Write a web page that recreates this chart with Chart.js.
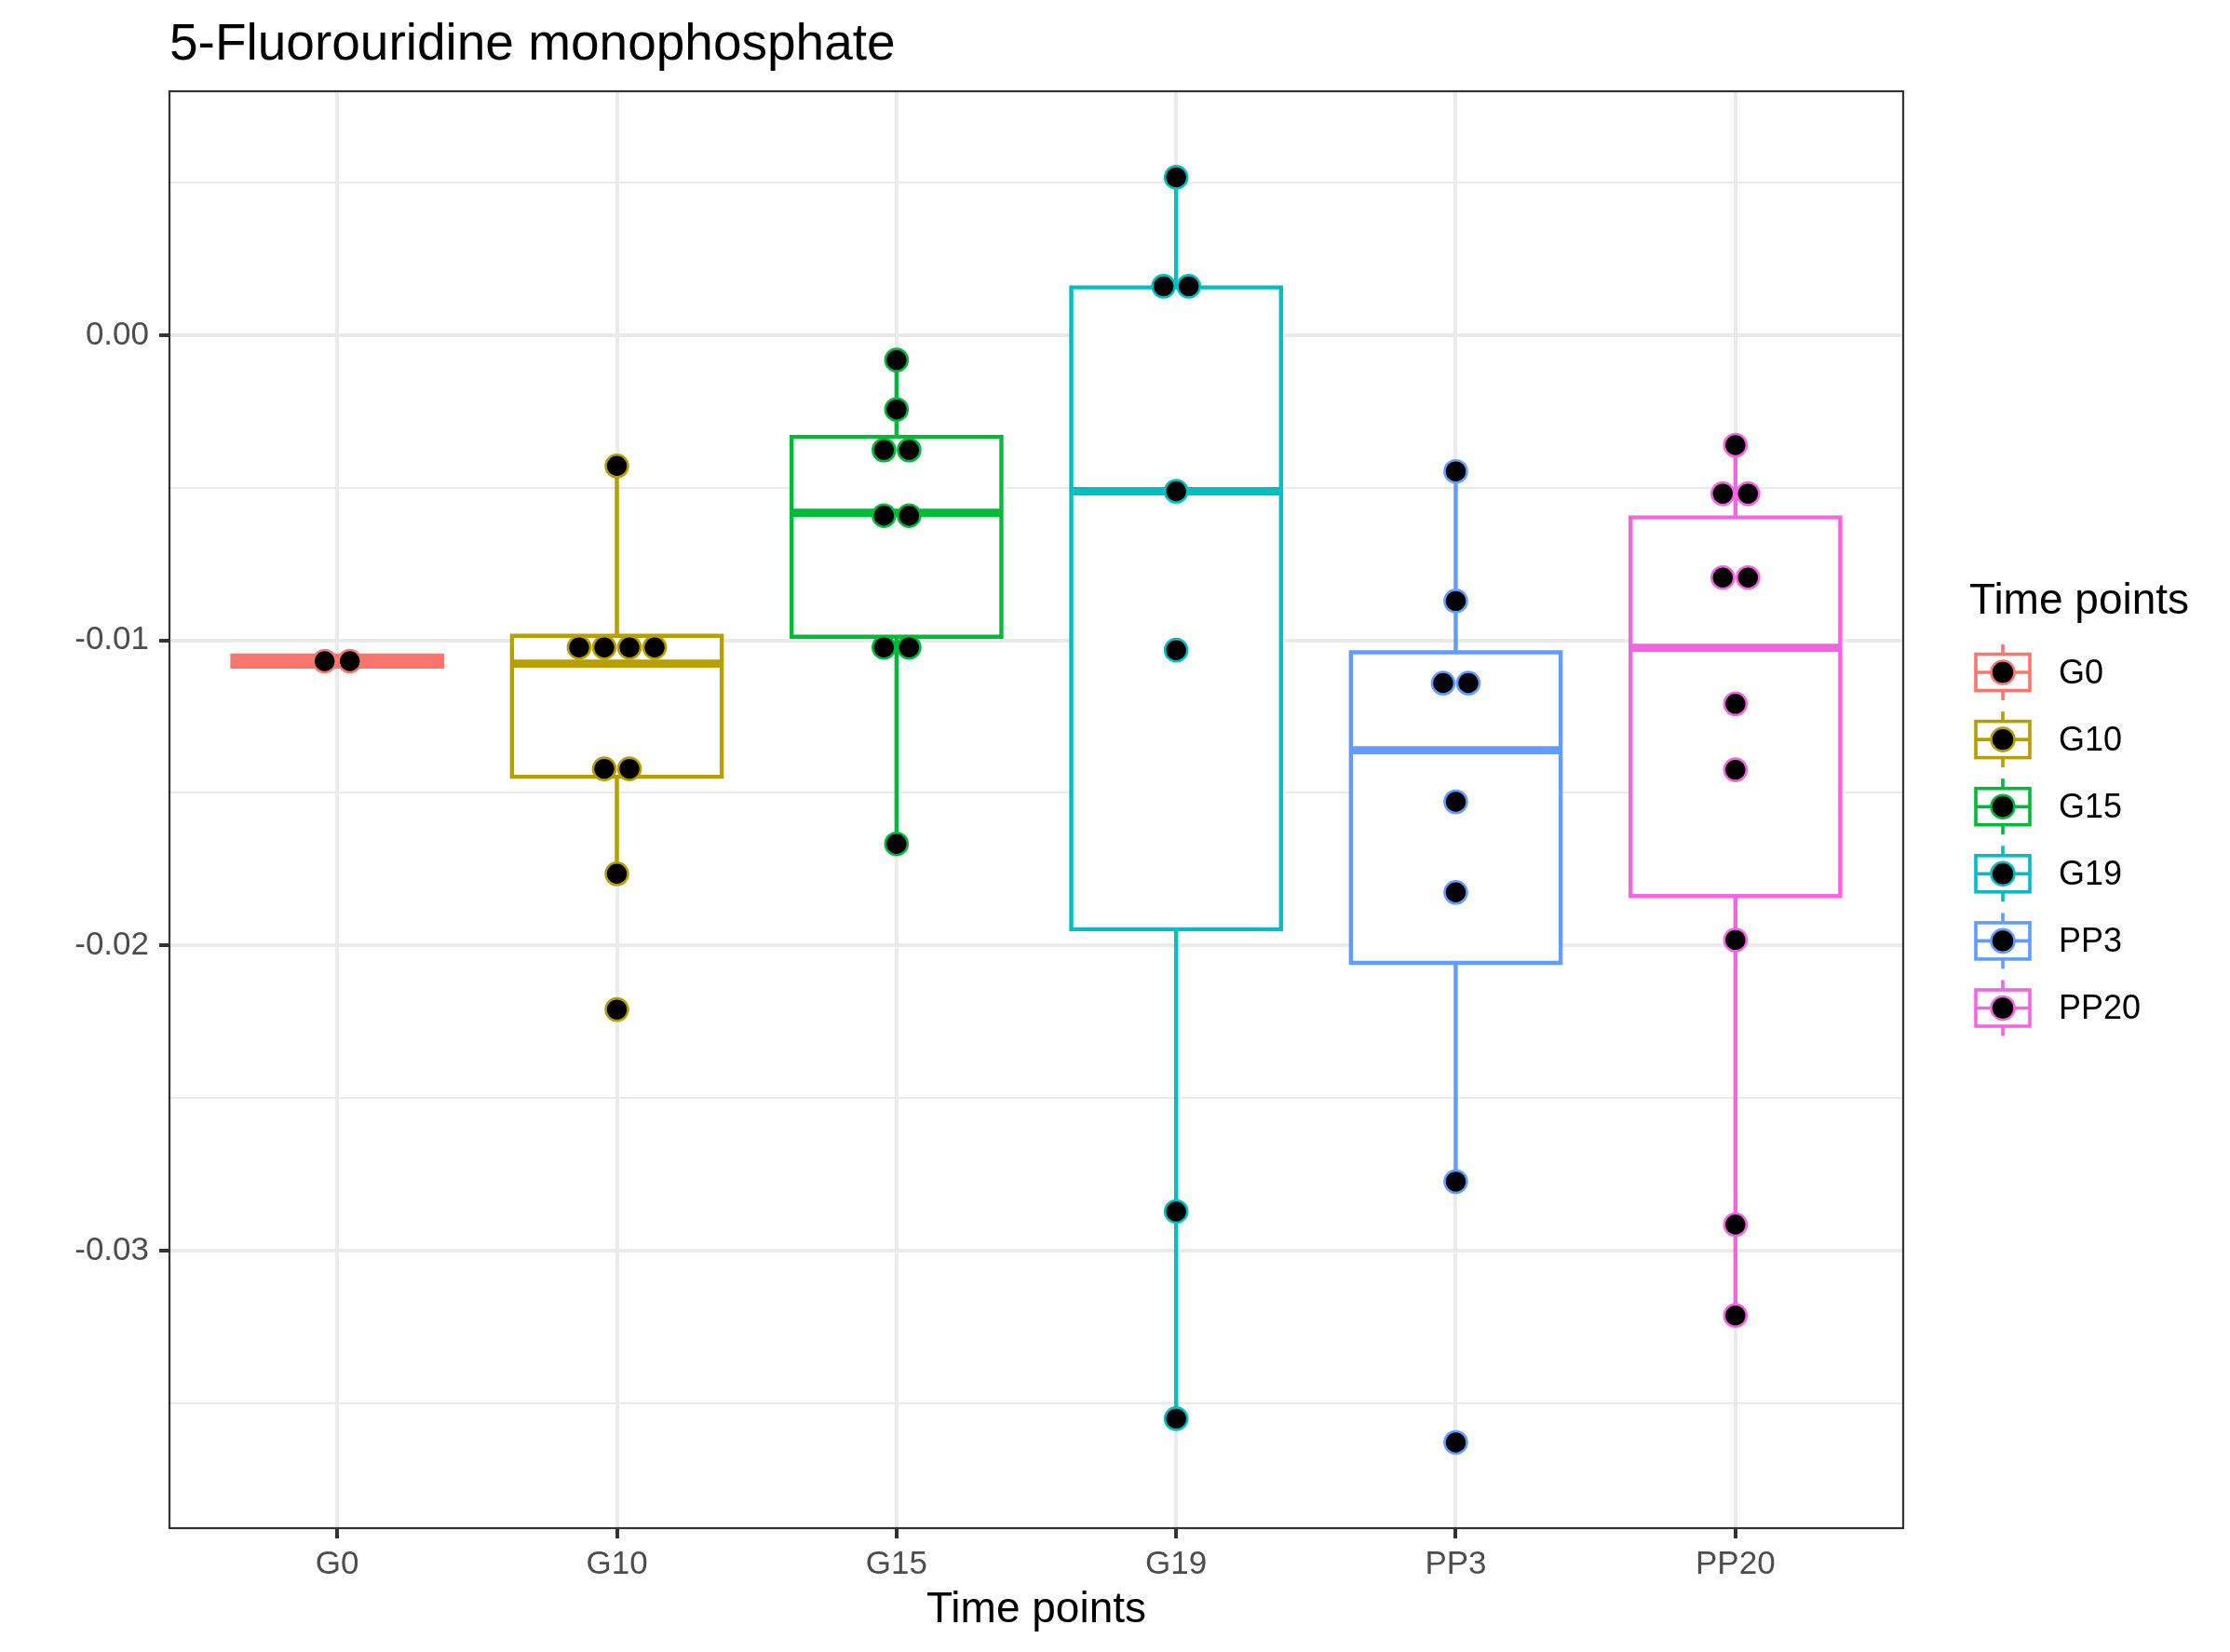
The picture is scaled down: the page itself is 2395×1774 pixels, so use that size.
<!DOCTYPE html>
<html>
<head>
<meta charset="utf-8">
<title>5-Fluorouridine monophosphate</title>
<script src="https://cdn.jsdelivr.net/npm/chart.js"></script>
<style>
  html, body { margin: 0; padding: 0; background: #ffffff; }
  canvas { display: block; }
</style>
</head>
<body>
<canvas id="chart" width="2395" height="1774"></canvas>
<script>
// --- data ---
const categories = ['G0', 'G10', 'G15', 'G19', 'PP3', 'PP20'];
const groupColors = ['#F8766D', '#B79F00', '#00BA38', '#00BFC4', '#619CFF', '#F564E3'];

// box statistics per time point
const whiskerLow  = [-0.01086, -0.01765, -0.01667, -0.03551, -0.02774, -0.03213];
const q1          = [-0.01086, -0.01447, -0.00988, -0.01947, -0.02057, -0.01838];
const median      = [-0.01068, -0.01076, -0.00582, -0.00511, -0.01360, -0.01024];
const q3          = [-0.01050, -0.00985, -0.00333,  0.00157, -0.01039, -0.00597];
const whiskerHigh = [-0.01050, -0.00428, -0.00081,  0.00518, -0.00446, -0.00360];

// dot values per time point (equal values get stacked side by side)
const dotsG0   = [-0.01068, -0.01068];
const dotsG10  = [-0.00428, -0.01023, -0.01023, -0.01023, -0.01023, -0.01421, -0.01421, -0.01765, -0.02210];
const dotsG15  = [-0.00081, -0.00243, -0.00376, -0.00376, -0.00591, -0.00591, -0.01023, -0.01023, -0.01667];
const dotsG19  = [0.00518, 0.00161, 0.00161, -0.00511, -0.01032, -0.02872, -0.03551];
const dotsPP3  = [-0.00446, -0.00871, -0.01140, -0.01140, -0.01529, -0.01826, -0.02774, -0.03629];
const dotsPP20 = [-0.00360, -0.00519, -0.00519, -0.00794, -0.00794, -0.01208, -0.01424, -0.01982, -0.02915, -0.03213];
const dotValues = [dotsG0, dotsG10, dotsG15, dotsG19, dotsPP3, dotsPP20];

const yMajorTicks = [0, -0.01, -0.02, -0.03];
const yMinorTicks = [0.005, -0.005, -0.015, -0.025, -0.035];
const yMin = -0.0391;
const yMax = 0.0080;

// --- styling constants ---
const FONT = '"Liberation Sans", Arial, Helvetica, sans-serif';
const BOX_WIDTH = 0.75;   // in category units, like geom_boxplot(width = 0.75)
const DOT_STEP = 0.09;    // horizontal spacing of stacked dots
const LINE_W = 4.4;

Chart.defaults.font.family = FONT;

// build line datasets with gaps (null) between pieces, remember the group of each point
function segmentsFrom(pieces) {
    const data = [];
    const groups = [];
    pieces.forEach(p => {
        p.pts.forEach(pt => { data.push(pt); groups.push(p.g); });
        data.push({ x: p.pts[0].x, y: null });
        groups.push(p.g);
    });
    return { data, groups };
}

const half = BOX_WIDTH / 2;

const whiskers = segmentsFrom(categories.flatMap((c, g) => [
    { g, pts: [{ x: g + 1, y: q3[g] }, { x: g + 1, y: whiskerHigh[g] }] },
    { g, pts: [{ x: g + 1, y: q1[g] }, { x: g + 1, y: whiskerLow[g] }] }
]));

const outlines = segmentsFrom(categories.map((c, g) => ({
    g,
    pts: [
        { x: g + 1 - half, y: q1[g] },
        { x: g + 1 - half, y: q3[g] },
        { x: g + 1 + half, y: q3[g] },
        { x: g + 1 + half, y: q1[g] },
        { x: g + 1 - half, y: q1[g] }
    ]
})));

const medians = segmentsFrom(categories.map((c, g) => ({
    g,
    pts: [{ x: g + 1 - half, y: median[g] }, { x: g + 1 + half, y: median[g] }]
})));

// stacked dots: ties are spread around the category centre
const dots = [];
const dotColors = [];
dotValues.forEach((vals, g) => {
    const counts = {};
    vals.forEach(v => { counts[v] = (counts[v] || 0) + 1; });
    const seen = {};
    vals.forEach(v => {
        const k = seen[v] || 0;
        seen[v] = k + 1;
        dots.push({ x: g + 1 + (k - (counts[v] - 1) / 2) * DOT_STEP, y: v });
        dotColors.push(groupColors[g]);
    });
});

const boxFills = categories.map((c, g) => ({ x: g + 1, y: [q1[g], q3[g]] }));

// title, panel border and the ggplot-like legend
const ggDecor = {
    id: 'ggDecor',
    afterDatasetsDraw(chart) {
        const { ctx, chartArea: a } = chart;
        ctx.save();
        ctx.strokeStyle = '#333333';
        ctx.lineWidth = 2.2;
        ctx.strokeRect(a.left, a.top, a.right - a.left, a.bottom - a.top);
        ctx.restore();
    },
    afterDraw(chart) {
        const { ctx, chartArea: a } = chart;
        ctx.save();

        // plot title
        ctx.fillStyle = '#000000';
        ctx.font = '55px ' + FONT;
        ctx.textAlign = 'left';
        ctx.textBaseline = 'alphabetic';
        ctx.fillText('5-Fluorouridine monophosphate', a.left, 64);

        // legend, centred on the panel
        const mid = (a.top + a.bottom) / 2;
        ctx.font = '46px ' + FONT;
        ctx.fillText('Time points', a.right + 71, mid - 210.5);

        const keyX = a.right + 107;
        categories.forEach((c, g) => {
            const cy = mid - 147.5 + g * 72.1;
            const col = groupColors[g];
            ctx.lineWidth = 3.6;
            ctx.strokeStyle = col;
            ctx.beginPath();
            ctx.moveTo(keyX, cy - 30);
            ctx.lineTo(keyX, cy + 30);
            ctx.stroke();
            ctx.fillStyle = '#ffffff';
            ctx.fillRect(keyX - 29, cy - 19.5, 58, 39);
            ctx.strokeRect(keyX - 29, cy - 19.5, 58, 39);
            ctx.beginPath();
            ctx.moveTo(keyX - 29, cy);
            ctx.lineTo(keyX + 29, cy);
            ctx.stroke();
            ctx.beginPath();
            ctx.arc(keyX, cy, 12.5, 0, Math.PI * 2);
            ctx.fillStyle = '#000000';
            ctx.fill();
            ctx.lineWidth = 2.6;
            ctx.stroke();

            ctx.fillStyle = '#000000';
            ctx.font = '36px ' + FONT;
            ctx.textBaseline = 'middle';
            ctx.fillText(c, a.right + 167, cy + 2);
            ctx.textBaseline = 'alphabetic';
        });
        ctx.restore();
    }
};

const segColor = groups => ctx => groupColors[groups[ctx.p0DataIndex]];

new Chart(document.getElementById('chart'), {
    type: 'bar',
    data: {
        datasets: [
            {
                type: 'scatter',
                label: 'dots',
                data: dots,
                pointRadius: 12,
                pointHoverRadius: 12,
                pointBorderWidth: 2.6,
                pointBackgroundColor: '#000000',
                pointBorderColor: dotColors,
                order: 1
            },
            {
                type: 'line',
                label: 'median',
                data: medians.data,
                borderWidth: LINE_W * 2,
                pointRadius: 0,
                spanGaps: false,
                segment: { borderColor: segColor(medians.groups) },
                order: 2
            },
            {
                type: 'line',
                label: 'box',
                data: outlines.data,
                borderWidth: LINE_W,
                borderJoinStyle: 'miter',
                borderCapStyle: 'square',
                pointRadius: 0,
                spanGaps: false,
                segment: { borderColor: segColor(outlines.groups) },
                order: 3
            },
            {
                type: 'line',
                label: 'whiskers',
                data: whiskers.data,
                borderWidth: LINE_W,
                pointRadius: 0,
                spanGaps: false,
                segment: { borderColor: segColor(whiskers.groups) },
                order: 4
            },
            {
                type: 'bar',
                label: 'box fill',
                data: boxFills,
                backgroundColor: '#ffffff',
                borderWidth: 0,
                barPercentage: BOX_WIDTH,
                categoryPercentage: 1,
                order: 5
            }
        ]
    },
    options: {
        responsive: false,
        devicePixelRatio: 1,
        animation: false,
        events: [],
        layout: { padding: { left: 0, top: 98, right: 351, bottom: 0 } },
        plugins: {
            legend: { display: false },
            tooltip: { enabled: false },
            title: { display: false }
        },
        scales: {
            x: {
                type: 'linear',
                min: 0.4,
                max: 6.6,
                offset: false,
                afterBuildTicks: scale => {
                    scale.ticks = categories.map((c, i) => ({ value: i + 1 }));
                },
                afterFit: scale => { scale.height = 133; },
                ticks: {
                    autoSkip: false,
                    maxRotation: 0,
                    padding: 7,
                    color: '#4D4D4D',
                    font: { size: 35 },
                    callback: (value, index) => categories[index]
                },
                grid: {
                    offset: false,
                    color: '#EBEBEB',
                    lineWidth: 4,
                    tickColor: '#333333',
                    tickWidth: 4,
                    tickLength: 11
                },
                border: { display: false },
                title: {
                    display: true,
                    text: 'Time points',
                    color: '#000000',
                    font: { size: 46 },
                    padding: { top: 0, bottom: 17 }
                }
            },
            y: {
                type: 'linear',
                min: yMin,
                max: yMax,
                beginAtZero: false,
                afterBuildTicks: scale => {
                    scale.ticks = yMajorTicks.concat(yMinorTicks)
                        .sort((a, b) => a - b)
                        .map(v => ({ value: v }));
                },
                afterFit: scale => { scale.width = 182; },
                ticks: {
                    autoSkip: false,
                    padding: 11,
                    color: '#4D4D4D',
                    font: { size: 35 },
                    callback: value => yMajorTicks.includes(value) ? value.toFixed(2) : ''
                },
                grid: {
                    color: '#EBEBEB',
                    lineWidth: ctx => yMajorTicks.includes(ctx.tick.value) ? 4 : 2,
                    tickColor: ctx => yMajorTicks.includes(ctx.tick.value) ? '#333333' : 'rgba(0,0,0,0)',
                    tickWidth: 4,
                    tickLength: 11
                },
                border: { display: false }
            }
        }
    },
    plugins: [ggDecor]
});
</script>
</body>
</html>
